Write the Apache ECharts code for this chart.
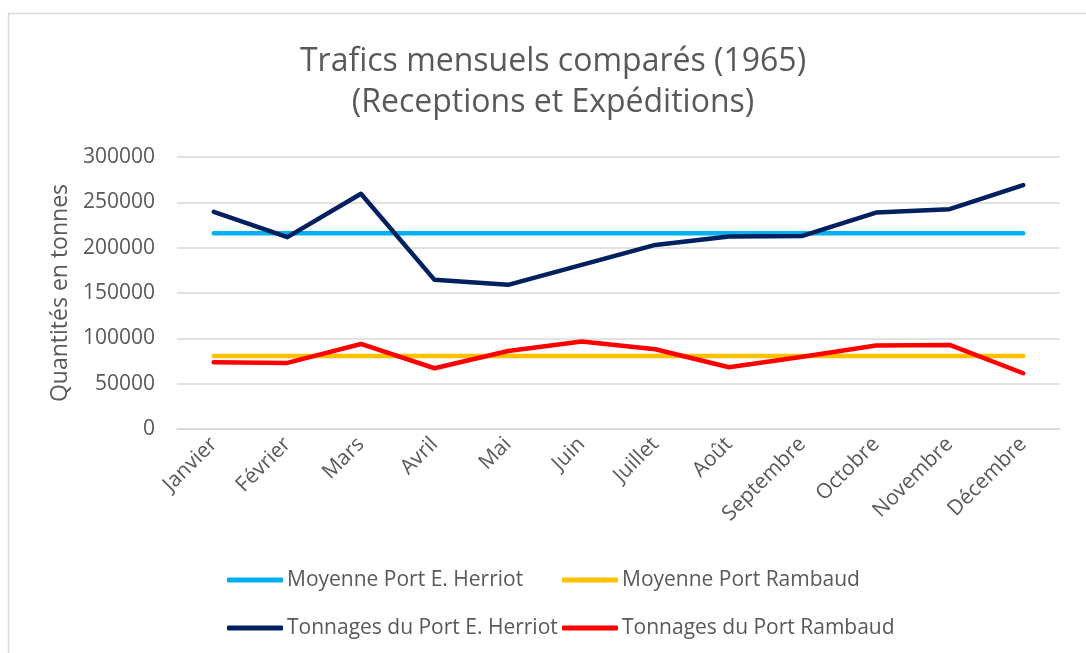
<!DOCTYPE html>
<html lang="fr">
<head>
  <meta charset="UTF-8">
  <title>Trafics mensuels comparés (1965)</title>
  <script src="https://cdn.jsdelivr.net/npm/echarts@6/dist/echarts.min.js"></script>
  <style>
    html, body { margin: 0; padding: 0; background: #fff; }
    #main { width: 1086px; height: 653px; }
  </style>
</head>
<body>
<div id="main"></div>
<script>
  // mois
  var mois = ['Janvier', 'Février', 'Mars', 'Avril', 'Mai', 'Juin', 'Juillet', 'Août',
    'Septembre', 'Octobre', 'Novembre', 'Décembre'];
  // tonnages
  var herriot = [239500, 211600, 259400, 164500, 159000, 181000, 203000, 212300, 213000, 238700, 242500, 269000];
  var rambaud = [73600, 72900, 93800, 67000, 86100, 96400, 87900, 68100, 79800, 92000, 92700, 61500];
  // moyennes annuelles
  var moyHerriot = [216000, 216000, 216000, 216000, 216000, 216000, 216000, 216000, 216000, 216000, 216000, 216000];
  var moyRambaud = [80600, 80600, 80600, 80600, 80600, 80600, 80600, 80600, 80600, 80600, 80600, 80600];
  var yTicks = [0, 50000, 100000, 150000, 200000, 250000, 300000];

  var police = 'Open Sans';
  var gris = '#595959';

  function ligne(nom, couleur, valeurs) {
    return {
      name: nom,
      type: 'line',
      data: valeurs,
      symbol: 'none',
      lineStyle: { color: couleur, width: 4.5, cap: 'round', join: 'round' },
      itemStyle: { color: couleur },
      emphasis: { disabled: true }
    };
  }

  var legendeBase = {
    orient: 'vertical',
    icon: 'roundRect',
    padding: 0,
    itemWidth: 56,
    itemHeight: 5,
    itemGap: 24,
    top: 568,
    textStyle: { color: gris, fontFamily: police, fontSize: 21, lineHeight: 24, padding: [0, 0, 0, -1] }
  };

  var myChart = echarts.init(document.getElementById('main'));
  myChart.setOption({
    animation: false,
    title: {
      text: 'Trafics mensuels comparés (1965)\n(Receptions et Expéditions)',
      left: 548,
      textAlign: 'center',
      top: 36,
      textStyle: { color: gris, fontFamily: police, fontSize: 32, fontWeight: 'normal', lineHeight: 41 }
    },
    graphic: [{
      type: 'rect',
      shape: { x: 8.5, y: 13.5, width: 1200, height: 800 },
      style: { fill: 'none', stroke: '#d9d9d9', lineWidth: 1.5 },
      silent: true
    }],
    legend: [
      Object.assign({}, legendeBase, { left: 227, data: ['Moyenne Port E. Herriot', 'Tonnages du Port E. Herriot'] }),
      Object.assign({}, legendeBase, { left: 562, data: ['Moyenne Port Rambaud', 'Tonnages du Port Rambaud'] })
    ],
    grid: { left: 177, right: 26, top: 157, bottom: 224 },
    xAxis: {
      type: 'category',
      data: mois,
      boundaryGap: true,
      axisLine: { lineStyle: { color: '#d9d9d9', width: 1.5 } },
      axisTick: { show: false },
      axisLabel: { rotate: 45, color: gris, fontFamily: police, fontSize: 21, margin: 12, interval: 0 }
    },
    yAxis: {
      type: 'value',
      min: yTicks[0],
      max: yTicks[yTicks.length - 1],
      interval: 50000,
      name: 'Quantités en tonnes',
      nameLocation: 'middle',
      nameGap: 104,
      nameTextStyle: { color: gris, fontFamily: police, fontSize: 23 },
      axisLine: { show: false },
      axisTick: { show: false },
      axisLabel: { color: gris, fontFamily: police, fontSize: 21, margin: 22, formatter: function (v) { return String(v); } },
      splitLine: { lineStyle: { color: '#d9d9d9', width: 1.5 } }
    },
    series: [
      ligne('Moyenne Port E. Herriot', '#00b0f0', moyHerriot),
      ligne('Moyenne Port Rambaud', '#ffc000', moyRambaud),
      ligne('Tonnages du Port E. Herriot', '#002060', herriot),
      ligne('Tonnages du Port Rambaud', '#ff0000', rambaud)
    ]
  });
</script>
</body>
</html>
